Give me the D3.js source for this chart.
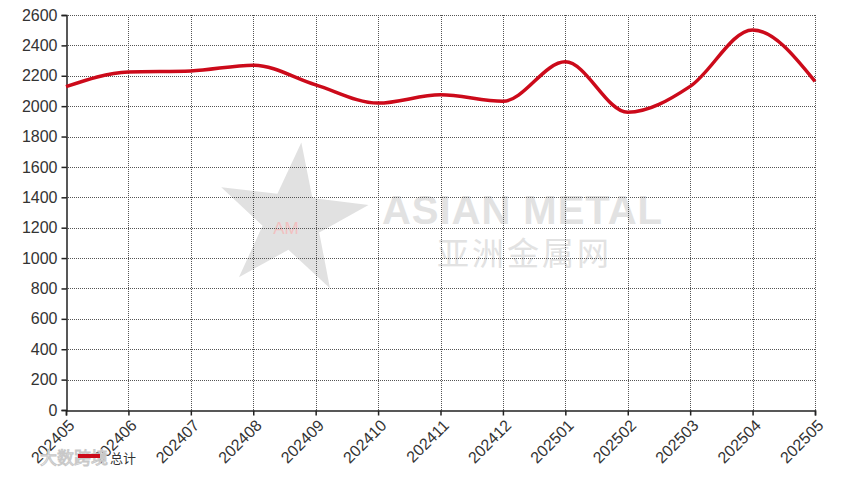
<!DOCTYPE html>
<html><head><meta charset="utf-8">
<script src="https://cdn.jsdelivr.net/npm/d3@7"></script>
<style>body{margin:0;background:#fff;}svg{display:block;}</style>
</head><body>
<script>
const months = ["202405","202406","202407","202408","202409","202410","202411","202412","202501","202502","202503","202504","202505"];
const totals = [2128,2225,2232,2270,2140,2020,2075,2032,2292,1960,2130,2502,2163];
const yTicks = [0,200,400,600,800,1000,1200,1400,1600,1800,2000,2200,2400,2600];
const seriesName = "总计";

const W = 865, H = 498;
const m = {left:66, right:50, top:15, bottom:88};
const svg = d3.select("body").append("svg").attr("width",W).attr("height",H);

const x = d3.scalePoint().domain(months).range([m.left, W - m.right]);
const y = d3.scaleLinear().domain([0,2600]).range([H - m.bottom, m.top]);

// watermark
const wm = svg.append("g");
const cx = 292, cy = 220;
const starPts = [];
for (let i=0;i<10;i++){
  const r = i%2===0 ? 78 : 30;
  const a = -Math.PI/2 + 0.12 + i*Math.PI/5;
  starPts.push([cx + r*Math.cos(a), cy + r*Math.sin(a)]);
}
wm.append("polygon").attr("points", starPts.map(p=>p.join(",")).join(" "))
  .attr("fill","#dedede").attr("opacity",0.9);
wm.append("text").attr("x",cx-6).attr("y",cy+14).attr("text-anchor","middle")
  .attr("font-family","Arial, Liberation Sans").attr("font-size",17).attr("fill","#f2c0c0").text("AM");
wm.append("text").attr("x",382).attr("y",224).attr("font-family","Liberation Sans, Arial")
  .attr("font-size",40).attr("font-weight","bold").attr("fill","#e2e2e2").attr("textLength",280).text("ASIAN METAL");
wm.append("text").attr("x",437).attr("y",265).attr("font-family","Noto Sans CJK SC")
  .attr("font-size",32).attr("fill","#e2e2e2").attr("textLength",172).text("亚洲金属网");

// grid
const grid = svg.append("g").attr("stroke","#555").attr("stroke-width",1).attr("stroke-dasharray","1,1");
grid.selectAll("line.h").data(yTicks.filter(d=>d>0)).join("line")
  .attr("x1",m.left).attr("x2",W-m.right).attr("y1",d=>Math.round(y(d))+0.5).attr("y2",d=>Math.round(y(d))+0.5);
grid.selectAll("line.v").data(months.slice(1)).join("line")
  .attr("y1",m.top).attr("y2",H-m.bottom).attr("x1",d=>Math.round(x(d))+0.5).attr("x2",d=>Math.round(x(d))+0.5);

// axes
const yAxis = d3.axisLeft(y).tickValues(yTicks).tickFormat(d3.format("d")).tickSize(5).tickPadding(4);
const gy = svg.append("g").attr("transform",`translate(${m.left+0.5},0)`).call(yAxis);
gy.select(".domain").attr("stroke","#222").attr("stroke-width",1.5);
gy.selectAll(".tick line").attr("stroke","#222").attr("stroke-width",1.5);
gy.selectAll("text").attr("font-family","Arial, Liberation Sans").attr("font-size",16).attr("fill","#333");

const xAxis = d3.axisBottom(x).tickSize(5).tickPadding(4);
const gx = svg.append("g").attr("transform",`translate(0,${H-m.bottom+0.5})`).call(xAxis);
gx.select(".domain").attr("stroke","#222").attr("stroke-width",1.5);
gx.selectAll(".tick line").attr("stroke","#222").attr("stroke-width",1.5);
gx.selectAll("text").attr("font-family","Arial, Liberation Sans").attr("font-size",16).attr("fill","#333")
  .attr("text-anchor","end").attr("x",0).attr("y",0).attr("dy","0.35em")
  .attr("transform","translate(5,12) rotate(-45)");

// line
const line = d3.line().x((d,i)=>x(months[i])).y(d=>y(d)).curve(d3.curveMonotoneX);
svg.append("path").datum(totals).attr("d",line).attr("fill","none")
  .attr("stroke","#cc0a1a").attr("stroke-width",3.5).attr("stroke-linejoin","round");

// legend
const lg = svg.append("g");
lg.append("text").attr("x",40).attr("y",464).attr("font-family","Noto Sans CJK SC")
  .attr("font-size",17).attr("fill","#fff").attr("stroke","#c8c8c8").attr("stroke-width",1).text("大数跨境");
lg.append("rect").attr("x",78).attr("y",454).attr("width",22).attr("height",4).attr("fill","#cc0a1a");
lg.append("text").attr("x",110).attr("y",463).attr("font-family","Noto Sans CJK SC")
  .attr("font-size",13).attr("fill","#333").text(seriesName);
</script>
</body></html>
